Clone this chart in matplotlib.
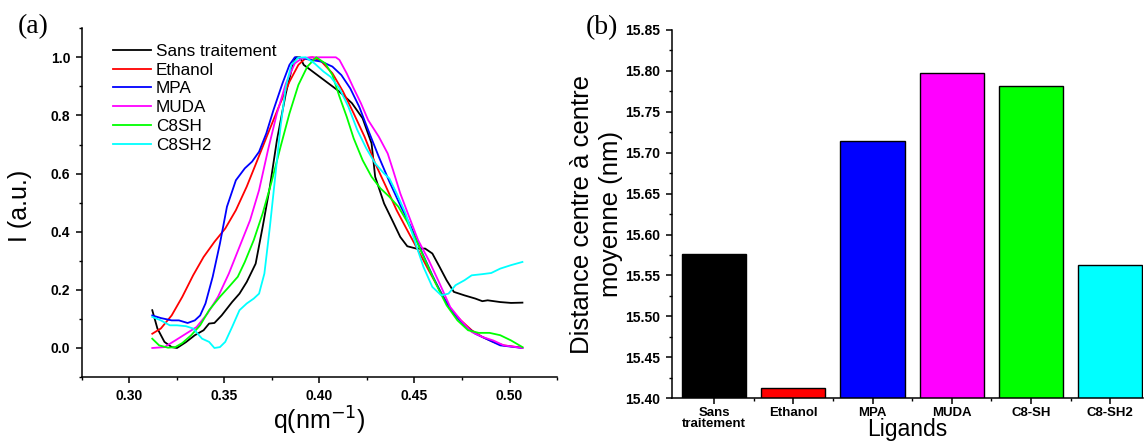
import matplotlib
matplotlib.use("Agg")
import matplotlib.pyplot as plt
from matplotlib.ticker import MultipleLocator

plt.rcParams["font.family"] = ["Liberation Sans", "DejaVu Sans"]

# (a) normalised intensity vs q
q_sans = [0.312, 0.3147, 0.3184, 0.3222, 0.325, 0.3297, 0.3344, 0.339, 0.3419, 0.3447,
          0.3485, 0.354, 0.3579, 0.3617, 0.3664, 0.3701, 0.3739, 0.3776, 0.3823, 0.3861,
          0.3876, 0.3898, 0.3917, 0.4011, 0.4105, 0.4171, 0.4227, 0.4274, 0.4293, 0.434,
          0.4387, 0.4425, 0.4462, 0.4509, 0.4556, 0.4594, 0.4632, 0.4669, 0.4707, 0.4763,
          0.482, 0.4857, 0.4885, 0.4951, 0.5008, 0.5068]
I_sans = [0.13, 0.067, 0.021, 0.003, 0.0, 0.02, 0.044, 0.061, 0.084, 0.086,
          0.112, 0.158, 0.187, 0.227, 0.29, 0.417, 0.555, 0.715, 0.876, 0.979,
          1.0, 1.0, 0.974, 0.928, 0.882, 0.842, 0.79, 0.704, 0.589, 0.497,
          0.434, 0.382, 0.35, 0.342, 0.342, 0.325, 0.279, 0.233, 0.193, 0.181,
          0.17, 0.161, 0.164, 0.158, 0.155, 0.156]

q_eth = [0.312, 0.3165, 0.3222, 0.3278, 0.3335, 0.339, 0.3447, 0.3504, 0.356, 0.3617,
         0.3673, 0.3729, 0.3786, 0.3842, 0.3889, 0.3927, 0.3964, 0.4011, 0.4068, 0.4124,
         0.418, 0.4237, 0.4293, 0.435, 0.4406, 0.4462, 0.4519, 0.4575, 0.4632, 0.4688,
         0.4744, 0.4801, 0.4857, 0.4914, 0.497, 0.5068]
I_eth = [0.049, 0.067, 0.112, 0.176, 0.25, 0.313, 0.365, 0.411, 0.474, 0.555,
         0.646, 0.738, 0.83, 0.916, 0.974, 0.997, 1.0, 0.985, 0.945, 0.882,
         0.807, 0.727, 0.635, 0.555, 0.474, 0.405, 0.336, 0.267, 0.199, 0.135,
         0.095, 0.061, 0.038, 0.021, 0.009, 0.001]

q_mpa = [0.312, 0.3165, 0.3222, 0.326, 0.3306, 0.3344, 0.3372, 0.34, 0.3438, 0.3476,
         0.3513, 0.356, 0.3607, 0.3645, 0.3682, 0.372, 0.3758, 0.3805, 0.3842, 0.387,
         0.3908, 0.3955, 0.4011, 0.4068, 0.4115, 0.4162, 0.4209, 0.4256, 0.4312, 0.4368,
         0.4425, 0.4481, 0.4538, 0.4594, 0.465, 0.4707, 0.4763, 0.482, 0.4876, 0.4951,
         0.5068]
I_mpa = [0.112, 0.103, 0.095, 0.095, 0.086, 0.095, 0.112, 0.153, 0.245, 0.359,
         0.486, 0.577, 0.618, 0.641, 0.675, 0.738, 0.819, 0.91, 0.974, 1.0,
         0.997, 0.991, 0.985, 0.968, 0.939, 0.893, 0.83, 0.75, 0.658, 0.572,
         0.491, 0.417, 0.331, 0.25, 0.176, 0.118, 0.078, 0.049, 0.032, 0.009,
         0.0]

q_muda = [0.312, 0.3184, 0.3241, 0.3297, 0.3353, 0.341, 0.3466, 0.3523, 0.3579, 0.3635,
          0.3682, 0.3729, 0.3776, 0.3823, 0.387, 0.3908, 0.3955, 0.4086, 0.4105, 0.4143,
          0.418, 0.4218, 0.4256, 0.4312, 0.4359, 0.4387, 0.4425, 0.4472, 0.4519, 0.4575,
          0.4632, 0.4688, 0.4744, 0.4801, 0.4857, 0.4914, 0.497, 0.5068]
I_muda = [0.0, 0.003, 0.026, 0.049, 0.072, 0.118, 0.176, 0.256, 0.348, 0.44,
          0.543, 0.681, 0.807, 0.91, 0.979, 0.997, 1.0, 1.0, 0.991, 0.945,
          0.893, 0.842, 0.784, 0.727, 0.669, 0.612, 0.532, 0.451, 0.371, 0.302,
          0.222, 0.141, 0.095, 0.055, 0.038, 0.026, 0.009, 0.0]

q_c8sh = [0.312, 0.3156, 0.3203, 0.3241, 0.3278, 0.3325, 0.3372, 0.3419, 0.3476, 0.3523,
          0.357, 0.3607, 0.3654, 0.3701, 0.3748, 0.3795, 0.3842, 0.3889, 0.3936, 0.3983,
          0.403, 0.4068, 0.4105, 0.4143, 0.418, 0.4227, 0.4274, 0.4321, 0.4368, 0.4415,
          0.4462, 0.4509, 0.4556, 0.4612, 0.4669, 0.4726, 0.4782, 0.4838, 0.4895, 0.4951,
          0.5008, 0.5068]
I_c8sh = [0.032, 0.009, 0.001, 0.003, 0.017, 0.044, 0.078, 0.13, 0.176, 0.21,
          0.245, 0.296, 0.371, 0.463, 0.572, 0.692, 0.807, 0.905, 0.968, 1.0,
          0.979, 0.939, 0.865, 0.796, 0.721, 0.646, 0.589, 0.549, 0.52, 0.486,
          0.434, 0.371, 0.302, 0.222, 0.147, 0.095, 0.061, 0.052, 0.052, 0.044,
          0.026, 0.003]

q_c8sh2 = [0.312, 0.3165, 0.3212, 0.325, 0.3297, 0.3335, 0.3382, 0.3419, 0.3447, 0.3476,
           0.3504, 0.354, 0.3579, 0.3617, 0.3654, 0.3682, 0.371, 0.3739, 0.3767, 0.3795,
           0.3823, 0.3852, 0.3889, 0.3927, 0.3974, 0.4021, 0.4058, 0.4105, 0.4152, 0.4199,
           0.4246, 0.4293, 0.434, 0.4368, 0.4406, 0.4453, 0.45, 0.4547, 0.4594, 0.4641,
           0.4679, 0.4716, 0.4763, 0.4801, 0.4857, 0.4904, 0.4951, 0.5008, 0.5068]
I_c8sh2 = [0.107, 0.095, 0.078, 0.078, 0.075, 0.067, 0.032, 0.021, 0.0, 0.003,
           0.021, 0.072, 0.13, 0.153, 0.17, 0.187, 0.256, 0.417, 0.589, 0.761,
           0.899, 0.974, 0.999, 1.0, 0.979, 0.951, 0.933, 0.893, 0.83, 0.75,
           0.687, 0.635, 0.6, 0.583, 0.532, 0.463, 0.371, 0.279, 0.21, 0.181,
           0.187, 0.216, 0.233, 0.25, 0.254, 0.258, 0.273, 0.285, 0.296]

series_names = ["Sans traitement", "Ethanol", "MPA", "MUDA", "C8SH", "C8SH2"]
series_colors = ["#000000", "#ff0000", "#0000ff", "#ff00ff", "#00ff00", "#00ffff"]

# (b) mean centre-to-centre distance per ligand
ligands = ["Sans\ntraitement", "Ethanol", "MPA", "MUDA", "C8-SH", "C8-SH2"]
distance = [15.576, 15.4125, 15.714, 15.798, 15.7815, 15.563]

fig = plt.figure(figsize=(11.48, 4.41), dpi=100)
ax1 = fig.add_axes([0.0714, 0.145, 0.4138, 0.791])
ax2 = fig.add_axes([0.5854, 0.097, 0.410, 0.835])

curves = [(q_sans, I_sans), (q_eth, I_eth), (q_mpa, I_mpa),
          (q_muda, I_muda), (q_c8sh, I_c8sh), (q_c8sh2, I_c8sh2)]
for (q, I), name, col in zip(curves, series_names, series_colors):
    ax1.plot(q, I, color=col, lw=1.3, label=name)

ax1.set_xlim(0.275, 0.525)
ax1.set_ylim(-0.1, 1.1)
ax1.xaxis.set_minor_locator(MultipleLocator(0.025))
ax1.yaxis.set_minor_locator(MultipleLocator(0.1))
ax1.set_yticks([0.0, 0.2, 0.4, 0.6, 0.8, 1.0])
ax1.set_xticks([0.30, 0.35, 0.40, 0.45, 0.50])
ax1.set_xticklabels(["0.30", "0.35", "0.40", "0.45", "0.50"])
ax1.set_yticklabels(["0.0", "0.2", "0.4", "0.6", "0.8", "1.0"])
ax1.set_xlabel("q(nm$^{-1}$)", fontsize=18)
ax1.set_ylabel("I (a.u.)", fontsize=18)
ax1.xaxis.set_label_coords(0.5, -0.08)
ax1.yaxis.set_label_coords(-0.105, 0.49)
ax1.legend(loc="upper left", bbox_to_anchor=(0.066, 0.955), frameon=False,
           fontsize=12.3, handlelength=2.2, handletextpad=0.3, labelspacing=0.22,
           borderpad=0, borderaxespad=0)

ax2.bar(range(len(ligands)), distance, width=0.81, color=series_colors,
        edgecolor="black", linewidth=1)
ax2.set_xlim(-0.53, 5.41)
ax2.set_ylim(15.40, 15.85)
ax2.yaxis.set_minor_locator(MultipleLocator(0.025))
ax2.set_xticks(range(len(ligands)))
ax2.set_xticks([i + 0.5 for i in range(len(ligands) - 1)], minor=True)
ax2.set_xticklabels(ligands, linespacing=0.95)
ax2.set_yticks([15.40 + 0.05 * i for i in range(10)])
ax2.set_yticklabels(["%.2f" % (15.40 + 0.05 * i) for i in range(10)])
ax2.set_xlabel("Ligands", fontsize=16.5)
ax2.set_ylabel("Distance centre à centre\nmoyenne (nm)", fontsize=18.5, linespacing=1.25)
ax2.xaxis.set_label_coords(0.5, -0.053)
ax2.yaxis.set_label_coords(-0.104, 0.5)

for ax in (ax1, ax2):
    for side in ("top", "right"):
        ax.spines[side].set_visible(False)
    for side in ("left", "bottom"):
        ax.spines[side].set_linewidth(1.1)
    ax.tick_params(which="major", direction="out", length=4.5, width=1.1, pad=4)
    ax.tick_params(which="minor", direction="out", length=2.5, width=1.0)
    for lab in ax.get_xticklabels() + ax.get_yticklabels():
        lab.set_fontweight("bold")
        lab.set_fontsize(10)

ax2.tick_params(axis="x", which="major", pad=1.5)
for lab in ax2.get_xticklabels():
    lab.set_fontsize(9.5)

fig.text(0.0157, 0.939, "(a)", family=["Liberation Serif", "DejaVu Serif"],
         fontsize=20, va="center", ha="left")
fig.text(0.51, 0.938, "(b)", family=["Liberation Serif", "DejaVu Serif"],
         fontsize=20, va="center", ha="left")

fig.savefig("out.png", dpi=100)
